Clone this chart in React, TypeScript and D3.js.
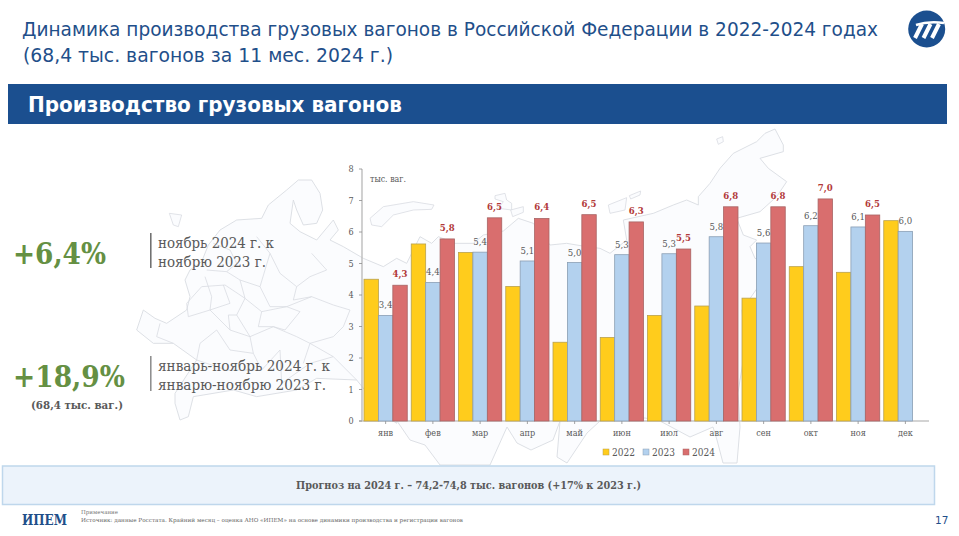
import React from "react";
import * as d3 from "d3";

const months = ["янв","фев","мар","апр","май","июн","июл","авг","сен","окт","ноя","дек"];
const years = ["2022","2023","2024"];
const values2022 = [4.5,5.62,5.35,4.27,2.5,2.65,3.35,3.65,3.9,4.9,4.72,6.36];
const values2023 = [3.35,4.4,5.36,5.08,5.03,5.28,5.31,5.85,5.65,6.2,6.16,6.02];
const values2024 = [4.31,5.78,6.45,6.43,6.55,6.32,5.46,6.8,6.8,7.05,6.54];
const labels2023 = ["3,4","4,4","5,4","5,1","5,0","5,3","5,3","5,8","5,6","6,2","6,1","6,0"];
const labels2024 = ["4,3","5,8","6,5","6,4","6,5","6,3","5,5","6,8","6,8","7,0","6,5"];
const yTicks = [0,1,2,3,4,5,6,7,8];

const fills: Record<string,string> = {"2022":"#ffcc1c","2023":"#b3d1ee","2024":"#d96e6e"};
const strokes: Record<string,string> = {"2022":"#b9a14e","2023":"#8b9fb4","2024":"#a86464"};

const SERIF = "'DejaVu Serif', serif";
const SANS = "'DejaVu Sans', sans-serif";

// Decorative background map (crop-relative traces of the backdrop)
const mapWest: [number,number][] = [[165,450],[180,420],[215,395],[235,345],[270,300],[320,270],[395,265],[415,225],[470,180],[505,150],[545,150],[570,190],[578,240],[560,280],[520,285],[500,240],[490,210],[480,280],[510,305],[560,330],[610,270],[625,300],[600,330],[640,350],[700,385],[760,410],[800,385],[830,400],[870,320],[905,340],[925,320]];
const mapEastTop: [number,number][] = [[45,355],[100,355],[130,330],[190,318],[235,280],[280,295],[330,360],[380,355],[440,365],[480,370],[510,385],[560,345],[550,285],[640,265],[700,240],[740,225],[775,240],[775,215],[810,175],[840,130],[880,85],[950,50],[975,25],[1005,12],[1030,60],[1030,80],[960,100],[985,130],[1040,170],[1010,215],[960,260],[890,280],[910,330],[950,345],[930,365],[945,400],[1000,420]];
const mapFarEast: [number,number][] = [[742,310],[745,350],[740,380],[738,393],[740,427],[737,463],[723,463],[717,440],[713,427],[690,437],[660,421],[645,418],[600,421],[587,433],[567,463],[557,457],[560,421],[553,440],[531,450],[517,443],[507,427],[490,465],[440,465],[425,445],[410,440],[397,421]];
const mapSouthWest: [number,number][] = [[800,880],[770,860],[680,750],[560,745],[500,780],[380,800],[310,780],[190,800],[175,860],[150,870],[135,820],[135,790],[200,690],[130,640],[70,640],[20,600],[40,540],[75,565],[110,580],[170,540],[180,500],[165,450]];
const regionLines: [number,number][][] = [
  [[170,520],[215,470],[285,465],[345,505],[395,545],[470,530],[545,500],[610,525],[660,540]],
  [[225,440],[245,500],[240,540],[300,600],[360,620],[430,590],[500,620],[540,640],[610,680]],
  [[200,690],[210,640],[260,600],[300,660],[370,670],[395,720],[450,660],[455,760]],
  [[330,450],[345,505],[320,555],[360,620],[370,670]],
  [[420,370],[450,430],[500,470],[490,510],[545,500]],
  [[430,590],[465,600],[510,545],[470,530],[420,530]],
  [[545,370],[590,420],[540,440],[500,470]],
  [[660,540],[640,590],[610,620],[540,640],[520,700]],
  [[280,465],[300,520],[240,540]],
  [[170,520],[175,560],[240,540]],
  [[230,420],[290,425],[330,450],[390,470],[420,530]],
  [[395,545],[385,590],[430,590]],
  [[300,600],[295,555],[320,555]],
  [[90,580],[80,620],[130,640]],
  [[200,690],[290,720],[395,720]],
  [[250,340],[300,360],[320,400],[290,425]],
  [[380,320],[420,370],[390,470]],
  [[455,760],[540,700],[610,680],[680,750]],
];
const islands: [number,number][][] = [
  [[118,250],[155,255],[145,290],[130,285],[118,250]],
  [[720,265],[760,230],[850,215],[912,225],[905,238],[850,240],[790,255],[755,290],[725,285],[720,265]],
];
const islandsEast: [number,number][][] = [
  [[165,212],[195,205],[200,225],[215,235],[215,255],[175,250],[190,230],[165,222],[165,212]],
  [[212,255],[250,245],[250,262],[218,275],[212,255]],
  [[505,240],[560,218],[555,255],[510,265],[505,240]],
  [[568,212],[602,198],[600,210],[572,222],[568,212]],
  [[830,42],[848,35],[850,50],[835,58],[830,42]],
];

const fromZ9 = (p:[number,number]):[number,number] => [130+p[0]/3,130+p[1]/3];
const fromZ10 = (p:[number,number]):[number,number] => [440+p[0]/3,125+p[1]/3];
const identity = (p:[number,number]) => p;
const outline: [number,number][] = [
  ...mapWest.map(fromZ9),
  ...mapEastTop.map(fromZ10),
  ...mapFarEast.map(identity),
  ...mapSouthWest.map(fromZ9),
];
const lineGen = d3.line<[number,number]>();
const MAP_STROKE = "#d9dce2";

function T(p:any){
  const {x,y,w,children,size,fill="#595959",weight,family=SERIF,anchor,stretch="condensed"} = p;
  return <text x={x} y={y} fontSize={size} fill={fill} fontWeight={weight} fontFamily={family} textAnchor={anchor}
    style={{fontStretch:stretch}} textLength={w} lengthAdjust={w?"spacingAndGlyphs":undefined}>{children}</text>;
}

export default function App(){
  const x0 = d3.scaleBand<string>().domain(months).range([362,929]).paddingInner(4/47.25).paddingOuter(2/47.25);
  const x1 = d3.scaleBand<string>().domain(years).range([0,x0.bandwidth()]);
  const y = d3.scaleLinear().domain([0,8]).range([421,169]);
  const series: [string,number[]][] = [["2022",values2022],["2023",values2023],["2024",values2024]];
  const legendX = d3.scaleOrdinal<string,number>().domain(years).range([603,643,683]);
  const logoStripes = [0,1,2];
  const stripeX = d3.scaleLinear().domain([0,2]).range([913,930]);
  return (
    <svg width={959} height={536} viewBox="0 0 959 536" style={{position:"absolute",left:0,top:0,background:"#fff"}}>
      <path d={lineGen(outline)!+"Z"} fill="#fbfcfe" stroke={MAP_STROKE} strokeWidth={0.9}/>
      {regionLines.map((l,i)=><path key={i} d={lineGen(l.map(fromZ9))!} fill="none" stroke={MAP_STROKE} strokeWidth={0.8}/>)}
      {islands.map((l,i)=><path key={i} d={lineGen(l.map(fromZ9))!+"Z"} fill="#fbfcfe" stroke={MAP_STROKE} strokeWidth={0.8}/>)}
      {islandsEast.map((l,i)=><path key={i} d={lineGen(l.map(fromZ10))!+"Z"} fill="#fbfcfe" stroke={MAP_STROKE} strokeWidth={0.8}/>)}

      <T x={22} y={36} w={856} size={19} fill="#1f4f8a" family={SANS}>Динамика производства грузовых вагонов в Российской Федерации в 2022-2024 годах</T>
      <T x={23} y={62} w={370} size={19} fill="#1f4f8a" family={SANS}>(68,4 тыс. вагонов за 11 мес. 2024 г.)</T>
      <circle cx={926.7} cy={29} r={18.5} fill="#1b4f8f"/>
      <path d="M 916 25 Q 928 21 944 23" fill="none" stroke="#fff" strokeWidth={2.5}/>
      {logoStripes.map(i=>{
        const sx = stripeX(i);
        return <path key={i} d={`M ${sx+9} 24 L ${sx+2} 38`} stroke="#fff" strokeWidth={4} fill="none"/>;
      })}
      <rect x={8} y={84} width={939} height={40} fill="#1b4f8f"/>
      <T x={28} y={112} w={374} size={21} fill="#fff" weight="bold" family={SANS}>Производство грузовых вагонов</T>

      <g>
        <line x1={362} x2={362} y1={169} y2={421} stroke="#bdbdbd" strokeWidth={1.4}/>
        <line x1={359} x2={929} y1={421} y2={421} stroke="#c4c4c4" strokeWidth={1.4}/>
        {yTicks.map(t=><g key={t}>
          <line x1={359} x2={362} y1={y(t)} y2={y(t)} stroke="#8c8c8c" strokeWidth={0.8}/>
          <text x={351} y={y(t)+3.3} fontSize={9} textAnchor="middle" fill="#595959" fontFamily={SERIF} style={{fontStretch:"condensed"}}>{t}</text>
        </g>)}
        {months.map(m=><g key={m}>
          <line x1={x0(m)!+x0.bandwidth()/2} x2={x0(m)!+x0.bandwidth()/2} y1={421} y2={424} stroke="#8c8c8c" strokeWidth={0.8}/>
          <text x={x0(m)!+x0.bandwidth()/2} y={436} fontSize={9} textAnchor="middle" fill="#595959" fontFamily={SERIF} style={{fontStretch:"condensed"}}>{m}</text>
        </g>)}
        <T x={370} y={182} w={36} size={8.5}>тыс. ваг.</T>
        {series.map(([yr,vals])=>vals.map((v,i)=>(
          <rect key={yr+i} x={x0(months[i])!+x1(yr)!} y={y(v)} width={x1.bandwidth()} height={y(0)-y(v)} fill={fills[yr]} stroke={strokes[yr]} strokeWidth={0.8}/>
        )))}
        {labels2023.map((l,i)=>(
          <text key={i} x={x0(months[i])!+x1("2023")!+x1.bandwidth()/2} y={y(values2023[i])-7} fontSize={9.5} textAnchor="middle" fill="#595959" fontFamily={SERIF} style={{fontStretch:"condensed"}}>{l}</text>
        ))}
        {labels2024.map((l,i)=>(
          <text key={i} x={x0(months[i])!+x1("2024")!+x1.bandwidth()/2} y={y(values2024[i])-8} fontSize={9.5} fontWeight="bold" textAnchor="middle" fill="#b23a3a" fontFamily={SERIF} style={{fontStretch:"condensed"}}>{l}</text>
        ))}
        {years.map(yr=><g key={yr}>
          <rect x={legendX(yr)} y={449} width={6} height={6} fill={fills[yr]} stroke={strokes[yr]} strokeWidth={0.5}/>
          <T x={legendX(yr)+9} y={456} w={23} size={10.5}>{yr}</T>
        </g>)}
      </g>

      <T x={13} y={264} w={93} size={30} fill="#659043" weight="bold">+6,4%</T>
      <line x1={150.8} x2={150.8} y1={233} y2={268} stroke="#6a6a6a" strokeWidth={1.5}/>
      <T x={158} y={248} w={116} size={14.5}>ноябрь 2024 г. к</T>
      <T x={158} y={267} w={108} size={14.5}>ноябрю 2023 г.</T>
      <T x={13} y={387} w={112} size={30} fill="#659043" weight="bold">+18,9%</T>
      <T x={31} y={409} w={92} size={11.5} weight="bold">(68,4 тыс. ваг.)</T>
      <line x1={150.8} x2={150.8} y1={356} y2={391} stroke="#8a8a8a" strokeWidth={1.5}/>
      <T x={158} y={371} w={172} size={14.5}>январь-ноябрь 2024 г. к</T>
      <T x={158} y={390} w={168} size={14.5}>январю-ноябрю 2023 г.</T>

      <rect x={2.5} y={466} width={932} height={38.5} fill="#ecf3fb" stroke="#bfd7ec" strokeWidth={1.5}/>
      <T x={296} y={489} w={345} size={11} weight="bold">Прогноз на 2024 г. – 74,2-74,8 тыс. вагонов (+17% к 2023 г.)</T>
      <T x={22} y={525} w={45} size={14.5} fill="#1f4f8a" weight="bold">ИПЕМ</T>
      <T x={81} y={514} w={37} size={5.5} fill="#777">Примечание</T>
      <T x={81} y={522} w={382} size={5.5} fill="#666">Источник: данные Росстата. Крайний месяц – оценка АНО «ИПЕМ» на основе динамики производства и регистрации вагонов</T>
      <T x={935} y={524} size={10.5} fill="#1f4f8a" family={SANS} stretch="normal">17</T>
    </svg>
  );
}
